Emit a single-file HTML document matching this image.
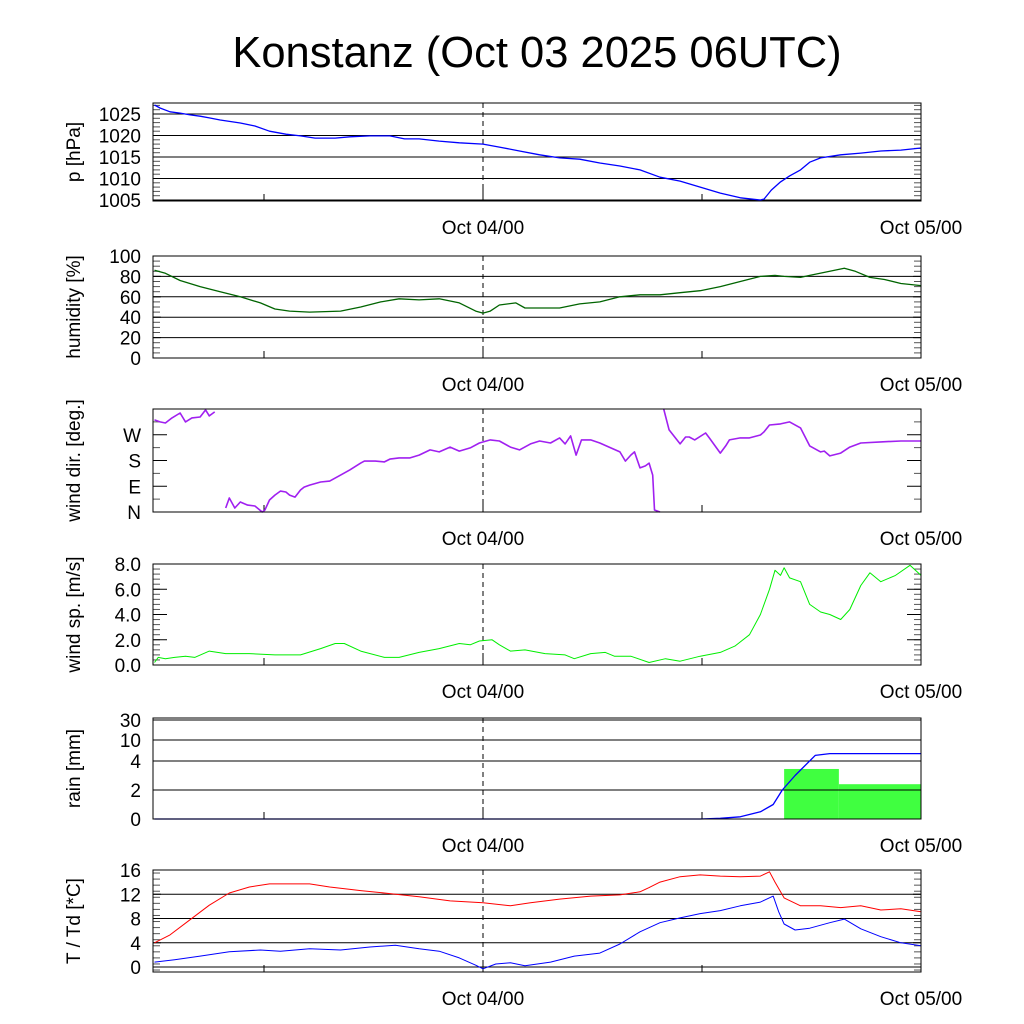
<!DOCTYPE html>
<html><head><meta charset="utf-8"><style>
body{margin:0;background:#fff}
svg{display:block;font-family:"Liberation Sans",sans-serif}
</style></head><body>
<svg id="c" width="1024" height="1024" xmlns="http://www.w3.org/2000/svg">
<text x="537" y="67" font-size="43.5" text-anchor="middle">Konstanz (Oct 03 2025 06UTC)</text>
</svg>
<script>
const NS="http://www.w3.org/2000/svg";
const svg=document.getElementById('c');
// time axis: hours from Oct 03 06UTC, 0..42
const pressHours=[0,0.3,0.85,1.4,1.95,2.5,3.0,3.6,4.7,5.5,6.3,7.2,8.0,8.8,9.9,10.7,11.8,12.9,13.7,14.5,15.6,16.7,18,18.9,20.0,21.1,22.2,23.3,24.4,25.5,26.6,27.7,28.8,29.9,31.0,32.1,33.2,33.4,33.8,34.3,34.8,35.4,35.9,36.5,37.6,38.7,39.8,40.9,42];
const pressVals=[1027.1,1026.4,1025.5,1025.2,1024.8,1024.5,1024.1,1023.6,1022.9,1022.2,1021,1020.3,1019.9,1019.4,1019.4,1019.7,1019.9,1019.9,1019.2,1019.2,1018.7,1018.3,1018,1017.3,1016.4,1015.5,1014.8,1014.5,1013.6,1012.9,1012,1010.3,1009.4,1008,1006.6,1005.5,1005,1005.2,1007.3,1009.2,1010.6,1012,1013.8,1014.8,1015.5,1015.9,1016.4,1016.6,1017.1];
const humHours=[0,0.6,1.4,2.5,3.6,4.7,5.8,6.6,7.4,8.5,10.2,11.3,12.4,13.4,14.5,15.6,16.7,17.6,18,18.4,18.9,19.8,20.3,21.1,22.2,23.3,24.4,25.5,26.6,27.7,28.8,29.9,31.0,32.1,33.2,34.0,34.5,35.4,35.9,37.0,37.8,38.4,39.2,40.0,40.9,42];
const humVals=[86,83,76,70,65,60,54,48,46,45,46,50,55,58,57,58,54,46,44,46,52,54,49,49,49,53,55,60,62,62,64,66,70,75,80,81,80,79,81,85,88,85,79,77,73,71];
const dirHours=[0,0.3,0.6,0.96,1.4,1.7,2.05,2.5,2.8,3.0,3.3,3.9,4.1,4.4,4.7,5.1,5.5,5.9,6.05,6.3,6.6,6.9,7.2,7.4,7.7,8.0,8.2,8.5,9.1,9.6,10.2,10.7,11.3,11.5,12.1,12.6,12.9,13.4,14.0,14.5,15.1,15.6,16.2,16.7,17.3,17.8,18.4,18.9,19.5,20.0,20.6,21.1,21.7,22.2,22.5,22.8,23.1,23.4,23.9,24.4,25.0,25.5,25.8,26.1,26.3,26.6,26.9,27.1,27.3,27.4,27.7,27.9,28.2,28.8,29.1,29.3,29.6,30.2,30.4,31.0,31.3,31.5,32.1,32.6,33.2,33.4,33.7,34.3,34.8,35.4,35.9,36.5,36.7,37.0,37.6,38.1,38.7,39.8,40.9,42];
const dirVals=[322,315,311,329,346,315,329,332,357,336,350,14,49,14,35,24,21,0,7,42,59,73,70,59,52,77,87,94,105,108,129,147,171,178,178,175,185,189,189,199,217,210,227,213,224,241,252,248,227,217,238,248,241,259,238,266,199,252,252,241,224,210,178,199,210,154,161,171,129,7,0,360,287,238,262,262,252,276,259,206,231,252,259,259,269,280,304,308,315,294,231,210,213,196,206,227,241,245,248,248];
const spdHours=[0,0.2,0.6,1.1,1.7,2.2,3.0,3.9,5.2,6.6,8.0,9.1,9.9,10.4,11.3,12.6,13.4,14.5,15.6,16.7,17.3,17.8,18.5,18.9,19.5,20.3,21.4,22.5,23.0,23.9,24.7,25.2,26.1,27.1,28.0,28.8,29.9,31.0,31.8,32.6,33.2,33.7,34.0,34.3,34.5,34.8,35.4,35.9,36.5,37.0,37.6,38.1,38.7,39.2,39.8,40.6,41.4,42];
const spdVals=[0.2,0.6,0.5,0.6,0.7,0.6,1.1,0.9,0.9,0.8,0.8,1.3,1.7,1.7,1.1,0.6,0.6,1.0,1.3,1.7,1.6,1.9,2.0,1.6,1.1,1.2,0.9,0.8,0.5,0.9,1.0,0.7,0.7,0.2,0.5,0.3,0.7,1.0,1.5,2.4,4.0,6.0,7.5,7.1,7.7,6.9,6.6,4.8,4.2,4.0,3.6,4.4,6.3,7.3,6.6,7.1,7.9,7.1];
const rainHours=[0,29.9,31.0,32.1,33.2,33.9,34.4,35.1,36.2,37.0,42];
const rainVals=[0,0,0.05,0.15,0.5,1.0,2.0,3.0,5.6,6.1,6.1];
const barStart=[34.5,37.5];
const barEnd=[37.5,42];
const barVals=[3.45,2.4];
const tHours=[0,0.85,1.95,3.0,4.1,5.2,6.3,7.4,8.5,9.6,11.3,12.9,14.5,16.2,18,19.5,20.6,22.2,23.9,25.5,26.6,27.1,27.7,28.8,29.9,31.0,32.1,33.2,33.7,34.0,34.5,35.4,36.5,37.6,38.7,39.8,40.9,42];
const tVals=[4,5.3,7.8,10.2,12.2,13.2,13.7,13.7,13.7,13.2,12.6,12.1,11.6,10.9,10.6,10.1,10.6,11.2,11.7,11.9,12.4,13.1,14,14.9,15.2,15.0,14.9,15.0,15.7,14,11.4,10.1,10.1,9.8,10.1,9.4,9.6,9.1];
const tdHours=[0,1.1,2.5,4.1,5.8,6.9,8.5,10.2,11.8,13.2,14.5,15.6,16.7,17.6,18,18.7,19.5,20.3,21.7,23.0,24.4,25.5,26.6,27.7,28.8,29.9,31.0,32.1,33.2,33.9,34.2,34.5,35.1,35.9,37.0,37.8,38.7,39.8,40.9,42];
const tdVals=[0.8,1.2,1.8,2.5,2.8,2.6,3.0,2.8,3.3,3.6,3.0,2.6,1.5,0.3,-0.3,0.5,0.7,0.2,0.8,1.8,2.3,3.8,5.8,7.3,8.1,8.8,9.3,10.1,10.7,11.7,9.1,7.1,6.1,6.4,7.3,7.9,6.3,5.0,4.0,3.5];

const X0=154.5,XW=18.25,PL=153,PR=921;
const xs=h=>X0+h*XW;
function el(tag,attrs,name,parent){const e=document.createElementNS(NS,tag);for(const k in attrs)e.setAttribute(k,attrs[k]);


(parent||svg).appendChild(e);return e;}
function txt(x,y,s,size,anchor,name,extra){const t=el('text',Object.assign({x:x,y:y,'font-size':size,'text-anchor':anchor},extra||{}),name);t.textContent=s;return t;}
function range(a,b,s){const r=[];for(let v=a;v<=b+1e-9;v+=s)r.push(+v.toFixed(3));return r;}

function panel(o){
  const g=el('g',{},o.name+'-panel');
  const ys=o.ys;
  const tl=o.tickLen||8;
  if(o.grid){o.ticks.forEach(v=>el('line',{x1:PL,x2:PR,y1:ys(v),y2:ys(v),stroke:'#000','stroke-width':1},o.name+'-gridline',g));}
  if(o.minor){o.minor.forEach(v=>{const y=ys(v);
    el('line',{x1:PL,x2:PL+7,y1:y,y2:y,stroke:'#555'},o.name+'-minor-tick',g);
    el('line',{x1:PR-7,x2:PR,y1:y,y2:y,stroke:'#555'},o.name+'-minor-tick',g);});}
  o.ticks.forEach((v,i)=>{const y=ys(v);
    el('line',{x1:PL,x2:PL+tl,y1:y,y2:y,stroke:'#000'},o.name+'-tick',g);
    el('line',{x1:PR-tl,x2:PR,y1:y,y2:y,stroke:'#000'},o.name+'-tick',g);
    txt(141,y+7,o.labels[i],19,'end',o.name+'-tick-label');});
  el('line',{x1:xs(18),x2:xs(18),y1:o.top,y2:o.bot,stroke:'#000','stroke-dasharray':'5,4'},o.name+'-midnight-line',g);
  [6,30].forEach(h=>el('line',{x1:xs(h),x2:xs(h),y1:o.bot-7,y2:o.bot,stroke:'#000'},o.name+'-x-tick',g));
  el('line',{x1:xs(18),x2:xs(18),y1:o.bot-12,y2:o.bot,stroke:'#000'},o.name+'-x-tick',g);
  o.draw(g);
  el('rect',{x:PL,y:o.top,width:PR-PL,height:o.bot-o.top,fill:'none',stroke:'#000'},o.name+'-frame',g);
  txt(xs(18),o.bot+33,'Oct 04/00',19,'middle',o.name+'-date-label');
  txt(PR,o.bot+33,'Oct 05/00',19,'middle',o.name+'-date-label');
  txt(0,0,o.title,19,'middle',o.name+'-axis-title',{transform:`translate(80,${(o.top+o.bot)/2}) rotate(-90)`});
}
function line(g,hs,vs,ys,color,name,w){
  const p=hs.map((h,i)=>(i?'L':'M')+xs(h).toFixed(1)+','+ys(vs[i]).toFixed(1)).join('');
  el('path',{d:p,fill:'none',stroke:color,'stroke-width':w||1.3,'stroke-linejoin':'round'},name,g);
}
function lin(v0,y0,v1,y1){return v=>y0+(v-v0)*(y1-y0)/(v1-v0);}

// pressure
const yP=lin(1025,114,1005,200);
panel({name:'pressure',top:103,bot:201,ys:yP,grid:true,ticks:[1025,1020,1015,1010,1005],labels:['1025','1020','1015','1010','1005'],minor:range(1005,1027,1),title:'p [hPa]',
 draw:g=>line(g,pressHours,pressVals,yP,'#0000ff','pressure-line')});
// humidity
const yH=lin(0,358,100,256);
panel({name:'humidity',top:256,bot:358,ys:yH,grid:true,ticks:[0,20,40,60,80,100],labels:['0','20','40','60','80','100'],minor:range(0,100,5),title:'humidity [%]',
 draw:g=>line(g,humHours,humVals,yH,'#006400','humidity-line')});
// wind dir
const yD=lin(0,512,360,409);
panel({name:'wind-dir',top:409,bot:512,ys:yD,grid:false,tickLen:14,ticks:[0,90,180,270],labels:['N','E','S','W'],minor:[45,135,225,315],title:'wind dir. [deg.]',
 draw:g=>{let segs=[[0]];for(let i=1;i<dirVals.length;i++){if(Math.abs(dirVals[i]-dirVals[i-1])>180)segs.push([]);segs[segs.length-1].push(i);}
   segs.forEach(s=>line(g,s.map(i=>dirHours[i]),s.map(i=>dirVals[i]),yD,'#a020f0','wind-dir-line',1.6));}});
// wind speed
const yS=lin(0,665,8,564);
panel({name:'wind-speed',top:564,bot:665,ys:yS,grid:false,tickLen:14,ticks:[0,2,4,6,8],labels:['0.0','2.0','4.0','6.0','8.0'],minor:range(0,8,0.4),title:'wind sp. [m/s]',
 draw:g=>line(g,spdHours,spdVals,yS,'#00ee00','wind-speed-line',1)});
// rain (piecewise scale)
const rTick=[0,2,4,10,30],rPix=[819,790,761,740,720];
const yR=v=>{for(let i=1;i<rTick.length;i++){if(v<=rTick[i])return rPix[i-1]+(v-rTick[i-1])*(rPix[i]-rPix[i-1])/(rTick[i]-rTick[i-1]);}return rPix[4];};
panel({name:'rain',top:718,bot:819,ys:yR,grid:true,ticks:rTick,labels:['0','2','4','10','30'],title:'rain [mm]',
 draw:g=>{barVals.forEach((v,i)=>el('rect',{x:xs(barStart[i]),y:yR(v),width:xs(barEnd[i])-xs(barStart[i]),height:819-yR(v),fill:'#40ff40'},'rain-bar',g));
   rTick.forEach(v=>el('line',{x1:PL,x2:PR,y1:yR(v),y2:yR(v),stroke:'#000'},'rain-gridline',g));
   line(g,rainHours,rainVals,yR,'#0000ff','rain-cumulative-line');}});
// temperature
const yT=lin(0,967,16,870);
panel({name:'temperature',top:870,bot:972,ys:yT,grid:true,ticks:[0,4,8,12,16],labels:['0','4','8','12','16'],minor:range(-0.5,16,1),title:'T / Td [*C]',
 draw:g=>{line(g,tHours,tVals,yT,'#ff0000','temperature-line',1);line(g,tdHours,tdVals,yT,'#0000ff','dewpoint-line',1);}});
</script>
</body></html>
